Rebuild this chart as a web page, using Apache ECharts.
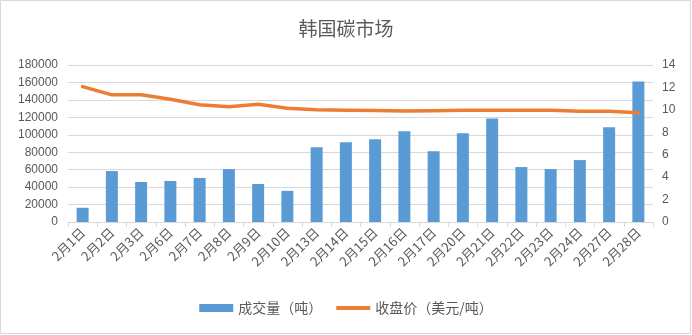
<!DOCTYPE html>
<html><head><meta charset="utf-8">
<script src="https://cdn.jsdelivr.net/npm/echarts@6/dist/echarts.min.js"></script>
<style>html,body{margin:0;padding:0;background:#fff}#c{width:692px;height:335px}</style>
</head><body><div id="c"></div>
<script>
const categories = ['2月1日','2月2日','2月3日','2月6日','2月7日','2月8日','2月9日','2月10日','2月13日','2月14日','2月15日','2月16日','2月17日','2月20日','2月21日','2月22日','2月23日','2月24日','2月27日','2月28日'];
const volume = [16300,58400,45900,47000,50500,60700,43600,35700,85800,91500,94900,104000,81200,101700,118800,63000,60700,71000,108600,161000];
const closePrice = [12.07,11.34,11.34,10.95,10.45,10.27,10.5,10.15,10.0,9.97,9.95,9.9,9.92,9.97,9.97,9.97,9.97,9.88,9.88,9.75];
const leftTicks = [0,180000,20000];
const rightTicks = [0,14,2];

const fam = '"Noto Sans CJK SC", "Noto Sans", sans-serif';
const txt = '#595959';
const chart = echarts.init(document.getElementById('c'), null, {renderer:'canvas'});
chart.setOption({
  animation:false,
  backgroundColor:'#fff',
  graphic:[{type:'rect', shape:{x:0.5,y:0.5,width:690,height:333}, style:{fill:'none', stroke:'#d9d9d9', lineWidth:1}, silent:true}],
  title:{text:'韩国碳市场', left:'center', top:14, textStyle:{fontFamily:fam, fontSize:19, fontWeight:'normal', color:txt}},
  legend:{bottom:15, left:'center', itemGap:14, textStyle:{fontFamily:fam, fontSize:14, color:txt},
    data:[{name:'成交量（吨）', icon:'rect', itemStyle:{color:'#5B9BD5'}},
          {name:'收盘价（美元/吨）', icon:'path://M0,0h34v4h-34z', itemStyle:{color:'#ED7D31'}}],
    itemWidth:34, itemHeight:8},
  grid:{left:68, right:39, top:65, bottom:113},
  xAxis:{type:'category', data:categories, boundaryGap:true,
    axisLine:{lineStyle:{color:'#d9d9d9'}}, axisTick:{show:true, length:5, lineStyle:{color:'#d9d9d9'}},
    axisLabel:{rotate:45, interval:0, fontFamily:fam, fontSize:13, color:txt, margin:8}},
  yAxis:[
    {type:'value', min:leftTicks[0], max:leftTicks[1], interval:leftTicks[2],
     axisLine:{show:false}, axisTick:{show:false},
     splitLine:{lineStyle:{color:'#d9d9d9'}},
     axisLabel:{fontFamily:'"Liberation Sans", sans-serif', fontSize:12, color:txt, margin:10, formatter:v=>String(v)}},
    {type:'value', min:rightTicks[0], max:rightTicks[1], interval:rightTicks[2],
     axisLine:{show:false}, axisTick:{show:false}, splitLine:{show:false},
     axisLabel:{fontFamily:'"Liberation Sans", sans-serif', fontSize:12, color:txt, margin:9}}
  ],
  series:[
    {name:'成交量（吨）', type:'bar', data:volume, barWidth:12, itemStyle:{color:'#5B9BD5'}, yAxisIndex:0},
    {name:'收盘价（美元/吨）', type:'line', data:closePrice, yAxisIndex:1, symbol:'none',
     lineStyle:{color:'#ED7D31', width:3.5, cap:'round', join:'round'}, itemStyle:{color:'#ED7D31'}}
  ]
});
</script></body></html>
